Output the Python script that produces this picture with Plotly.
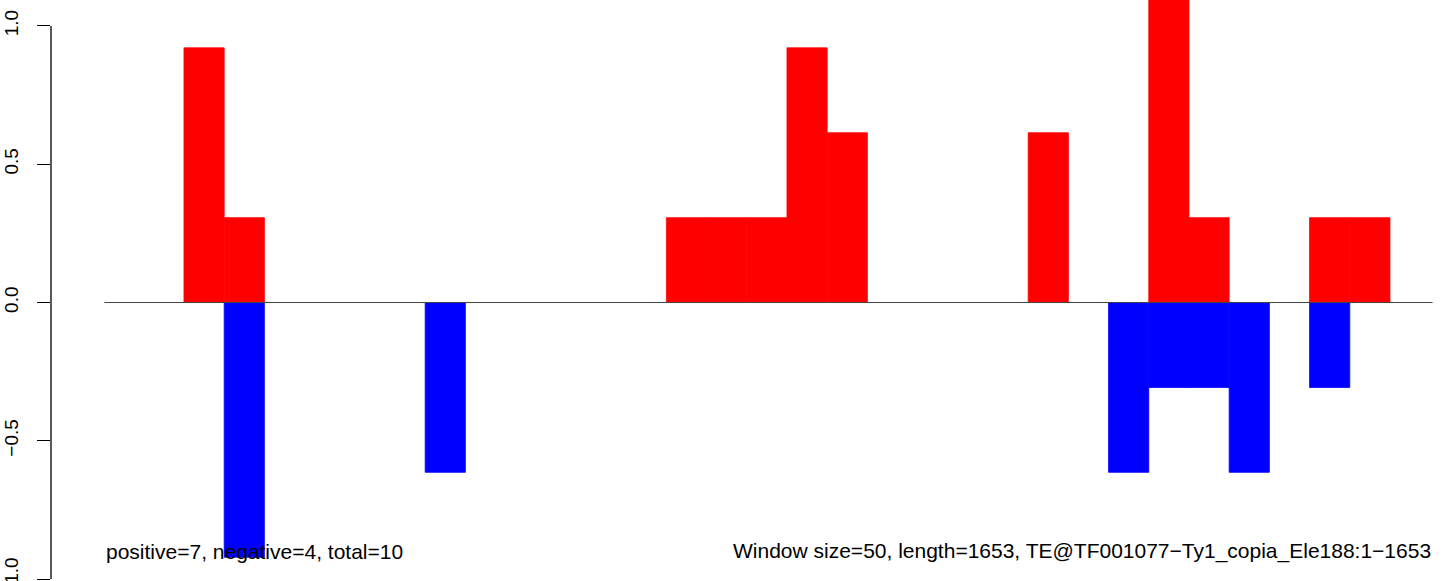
import plotly.graph_objects as go

window_size = 50
seq_length = 1653

# windows with positive / negative scores (window start, value)
pos_starts = [100, 150, 700, 750, 800, 850, 900, 1150, 1300, 1350, 1500, 1550]
pos_values = [0.921, 0.307, 0.307, 0.307, 0.307, 0.921, 0.614, 0.614, 1.228, 0.307, 0.307, 0.307]
neg_starts = [150, 400, 1250, 1300, 1350, 1400, 1500]
neg_values = [-0.921, -0.614, -0.614, -0.307, -0.307, -0.614, -0.307]

y_ticks = [-1.0, -0.5, 0.0, 0.5, 1.0]
y_ticktext = ["\u22121.0", "\u22120.5", "0.0", "0.5", "1.0"]

left_label = "positive=7, negative=4, total=10"
right_label = "Window size=50, length=1653, TE@TF001077\u2212Ty1_copia_Ele188:1\u22121653"

font = "Liberation Sans, Arial, Helvetica, sans-serif"

fig = go.Figure()
fig.add_trace(go.Bar(
    x=[s + window_size / 2 for s in pos_starts], y=pos_values,
    width=window_size, marker=dict(color="red", line=dict(color="red", width=0.8)),
))
fig.add_trace(go.Bar(
    x=[s + window_size / 2 for s in neg_starts], y=neg_values,
    width=window_size, marker=dict(color="blue", line=dict(color="blue", width=0.8)),
))
# baseline
fig.add_trace(go.Scatter(
    x=[1, seq_length], y=[0, 0], mode="lines",
    line=dict(color="#444444", width=1), hoverinfo="skip",
))

# R style y axis line only from -1 to 1
fig.add_shape(type="line", xref="paper", yref="y", x0=0, x1=0,
              y0=y_ticks[0], y1=y_ticks[-1], line=dict(color="black", width=1.3))

annotations = []
annotations.append(dict(x=1, y=-0.9, xref="x", yref="y", text=left_label,
                        xanchor="left", yanchor="middle", showarrow=False,
                        font=dict(family=font, size=21, color="black")))
annotations.append(dict(x=seq_length, y=-0.9, xref="x", yref="y", text=right_label,
                        xanchor="right", yanchor="middle", showarrow=False,
                        font=dict(family=font, size=21, color="black")))

fig.update_layout(
    width=1444, height=581,
    margin=dict(l=51, r=0, t=0, b=0),
    paper_bgcolor="white", plot_bgcolor="white",
    showlegend=False, barmode="overlay",
    annotations=annotations,
    xaxis=dict(range=[-65.4, 1667.2], visible=False, showgrid=False, zeroline=False,
               automargin=False),
    yaxis=dict(range=[-1.007, 1.094], showgrid=False, zeroline=False, showline=False,
               automargin=False,
               tickmode="array", tickvals=y_ticks, ticktext=y_ticktext,
               ticks="outside", ticklen=13, tickwidth=1.3, tickcolor="black",
               tickangle=-90, ticklabelstandoff=11, ticklabeloverflow="allow",
               tickfont=dict(family=font, size=19, color="black")),
)

# drop the default body margin so the figure sits at the window corner
fig.write_html("out.html", config={"displayModeBar": False},
               post_script="document.body.style.margin='0px';")
